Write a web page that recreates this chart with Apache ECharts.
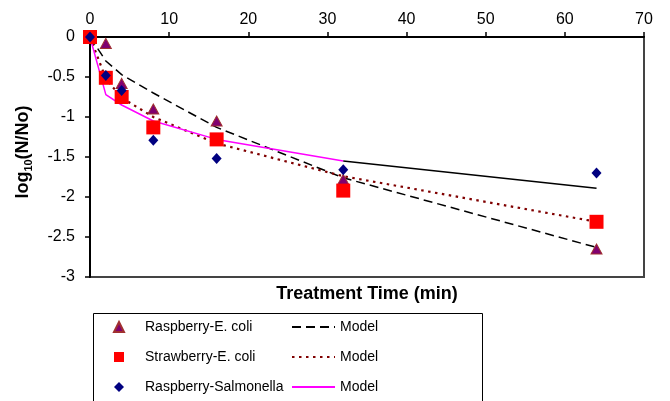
<!DOCTYPE html>
<html>
<head>
<meta charset="utf-8">
<script src="https://cdn.jsdelivr.net/npm/echarts@6/dist/echarts.min.js"></script>
<style>html,body{margin:0;padding:0;background:#fff;}#c{width:670px;height:401px;}</style>
</head>
<body>
<div id="c"></div>
<script>
var times = [0, 2, 4, 8, 16, 32, 64];
var raspEcoli = [0, -0.08, -0.58, -0.90, -1.05, -1.78, -2.65];
var strawEcoli = [0, -0.51, -0.75, -1.13, -1.28, -1.92, -2.31];
var raspSalm = [0, -0.48, -0.67, -1.29, -1.52, -1.66, -1.70];
var modelRE = [0, -0.30, -0.47, -0.70, -1.13, -1.76, -2.63];
var modelSE = [0, -0.52, -0.76, -1.00, -1.33, -1.74, -2.31];
var modelRSTimes = [0, 2, 4, 8, 16, 32];
var modelRS = [0, -0.72, -0.85, -1.05, -1.28, -1.55];
var modelRSTailTimes = [32, 64];
var modelRSTail = [-1.55, -1.89];

function pairs(xs, ys) { return xs.map(function (x, i) { return [x, ys[i]]; }); }

var FONT = 'Liberation Sans';
var chart = echarts.init(document.getElementById('c'), null, { renderer: 'canvas' });
chart.setOption({
  animation: false,
  backgroundColor: '#fff',
  textStyle: { fontFamily: FONT },
  grid: { left: 90, right: 26, top: 37, bottom: 124, show: true, borderColor: '#444', borderWidth: 2, backgroundColor: 'transparent' },
  xAxis: [{
    type: 'value', position: 'top', min: 0, max: 70, interval: 10,
    axisLine: { onZero: false, lineStyle: { color: '#000', width: 2 } },
    axisTick: { length: 5, lineStyle: { color: '#000', width: 1.5 } },
    axisLabel: { color: '#000', fontSize: 16, fontFamily: FONT, margin: 9 },
    splitLine: { show: false }
  }, {
    type: 'value', position: 'bottom', min: 0, max: 70,
    name: 'Treatment Time (min)', nameLocation: 'middle', nameGap: 8,
    nameTextStyle: { color: '#000', fontSize: 18, fontWeight: 'bold', fontFamily: FONT },
    axisLine: { show: false }, axisTick: { show: false }, axisLabel: { show: false }, splitLine: { show: false }
  }],
  yAxis: {
    type: 'value', min: -3, max: 0, interval: 0.5,
    name: '{a|log}{b|10}{a|(N/No)}', nameLocation: 'middle', nameGap: 56,
    nameTextStyle: {
      padding: [0, 0, 0, 10],
      rich: {
        a: { fontSize: 18, fontWeight: 'bold', color: '#000', fontFamily: FONT, lineHeight: 22 },
        b: { fontSize: 11, fontWeight: 'bold', color: '#000', fontFamily: FONT, lineHeight: 11, verticalAlign: 'bottom' }
      }
    },
    axisLine: { onZero: false, lineStyle: { color: '#000', width: 2 } },
    axisTick: { length: 5, lineStyle: { color: '#000', width: 1.5 } },
    axisLabel: { color: '#000', fontSize: 16, fontFamily: FONT, margin: 15 },
    splitLine: { show: false }
  },
  legend: [{
    orient: 'vertical', left: 108, top: 314, height: 120, itemWidth: 10, itemHeight: 10, itemGap: 14,
    textStyle: { fontSize: 14, fontFamily: FONT, color: '#000', lineHeight: 16, padding: [0, 0, 0, 16] },
    data: [
      { name: 'Raspberry-E. coli', icon: 'triangle' },
      { name: 'Strawberry-E. coli', icon: 'rect' },
      { name: 'Raspberry-Salmonella', icon: 'diamond' }
    ]
  }, {
    orient: 'vertical', left: 286, top: 314, height: 120, itemWidth: 43, itemHeight: 10, itemGap: 14,
    textStyle: { fontSize: 14, fontFamily: FONT, color: '#000', lineHeight: 16 },
    itemStyle: { opacity: 0, borderWidth: 0 },
    formatter: function () { return 'Model'; },
    data: ['Model-RE', 'Model-SE', 'Model-RS']
  }],
  graphic: [{
    type: 'rect', left: 91, top: 311, silent: true,
    shape: { width: 389, height: 100 },
    style: { fill: 'none', stroke: '#000', lineWidth: 1 }
  }],
  series: [
    { name: 'Model-RE', type: 'line', xAxisIndex: 0, data: pairs(times, modelRE), symbol: 'none', z: 2,
      lineStyle: { color: '#000', width: 1.5, type: [9, 5] }, itemStyle: { color: '#000' } },
    { name: 'Model-SE', type: 'line', xAxisIndex: 0, data: pairs(times, modelSE), symbol: 'none', z: 2,
      lineStyle: { color: '#800000', width: 2.2, type: [2.5, 4.5] }, itemStyle: { color: '#800000' } },
    { name: 'Model-RS', type: 'line', xAxisIndex: 0, data: pairs(modelRSTimes, modelRS), symbol: 'none', z: 2,
      lineStyle: { color: '#ff00ff', width: 1.5 }, itemStyle: { color: '#ff00ff' } },
    { name: 'Model-RS-tail', type: 'line', xAxisIndex: 0, data: pairs(modelRSTailTimes, modelRSTail), symbol: 'none', z: 2,
      lineStyle: { color: '#000', width: 1.5 }, itemStyle: { color: '#000' } },
    { name: 'Raspberry-E. coli', type: 'scatter', xAxisIndex: 0, data: pairs(times, raspEcoli), symbol: 'triangle', symbolSize: [11, 10], z: 3,
      itemStyle: { color: '#800070', borderColor: '#a03030', borderWidth: 1, opacity: 1 } },
    { name: 'Strawberry-E. coli', type: 'scatter', xAxisIndex: 0, data: pairs(times, strawEcoli), symbol: 'rect', symbolSize: 14, z: 4,
      itemStyle: { color: '#ff0000', opacity: 1 } },
    { name: 'Raspberry-Salmonella', type: 'scatter', xAxisIndex: 0, data: pairs(times, raspSalm), symbol: 'diamond', symbolSize: [10, 11], z: 5,
      itemStyle: { color: '#000080', opacity: 1 } }
  ]
});
</script>
</body>
</html>
